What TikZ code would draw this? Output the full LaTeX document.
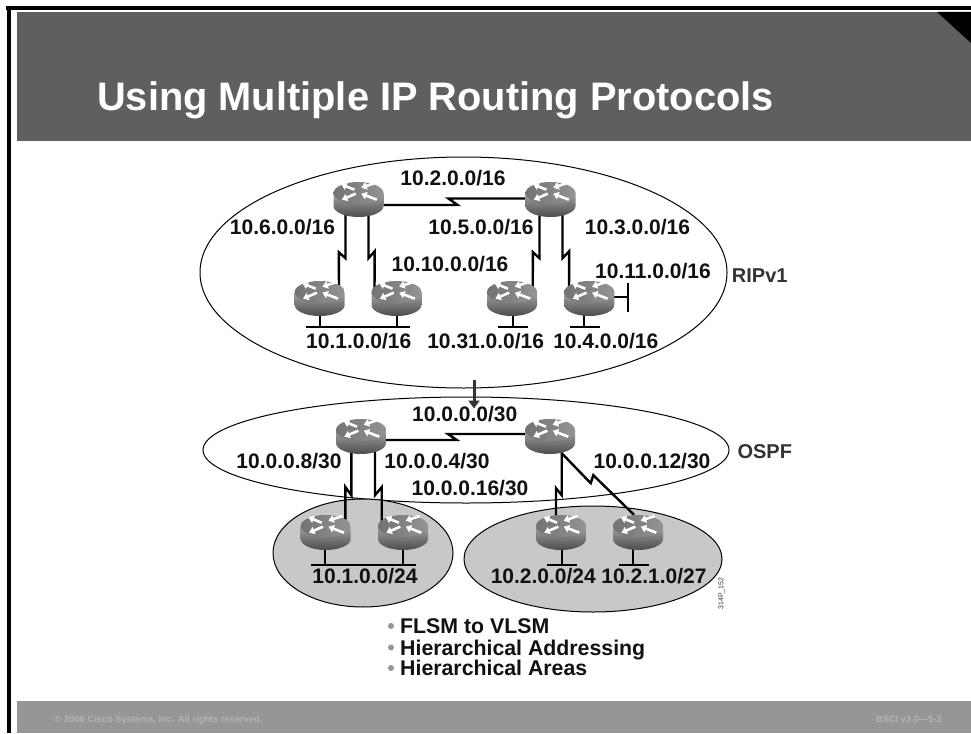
\documentclass[tikz,border=0pt]{standalone}
\usepackage{fontspec}
\setmainfont{Liberation Sans}
\usetikzlibrary{shapes.geometric,arrows.meta}
\pgfdeclarelayer{back}
\pgfdeclarelayer{links}
\pgfsetlayers{back,links,main}
\definecolor{hdr}{HTML}{5F5F5F}
\definecolor{ftr}{HTML}{969696}
\definecolor{ftxt}{HTML}{B4B4B4}
\definecolor{area}{HTML}{C8C8C8}
\definecolor{ink}{HTML}{111111}
\definecolor{protoink}{HTML}{333333}
\tikzset{
  x=1pt,y=-1pt,
  net/.style={font=\bfseries\fontsize{21}{24}\selectfont,text=ink,inner sep=0pt,anchor=base,yshift=1pt},
  proto/.style={font=\bfseries\fontsize{20}{24}\selectfont,text=protoink,inner sep=0pt,anchor=base west,yshift=-1pt},
  bullettext/.style={font=\bfseries\fontsize{21.3}{24}\selectfont,text=ink,inner sep=0pt,anchor=base west},
  bulletdot/.style={circle,fill=ftr,inner sep=0pt,minimum size=6pt},
  zone/.style={ellipse,draw=black,line width=1pt,inner sep=0pt},
  lan/.style={line width=2.2pt,draw=black},
  serial/.style={line width=2.4pt,draw=black,line join=miter},
  rbox/.style={rectangle,minimum width=50pt,minimum height=35pt,inner sep=0pt},
  rarrow/.style={draw=white,line width=2.6pt,-{Triangle[length=5.5pt,width=7.5pt,fill=white]}},
}
\newcommand{\routerat}[3]{%
  \begin{scope}[shift={(#2,#3)}]
    \shade[top color=black!36,bottom color=black!70,draw=none]
      (-25,-6.5) -- (-25,6.5) arc[start angle=180,end angle=0,x radius=25,y radius=11]
      -- (25,-6.5) -- cycle;
    \shade[left color=black!55,right color=black!42,draw=none]
      (0,-6.5) ellipse[x radius=25,y radius=11];
    \draw[rarrow] (-4,-9.8) -- (-17.3,-15.2);
    \draw[rarrow] (16.7,-16.5) -- (2.7,-11.8);
    \draw[rarrow] (-2.7,-5.8) -- (-16.7,0.2);
    \draw[rarrow] (18.3,0.2) -- (2.7,-5.8);
  \end{scope}
  \node[rbox] (#1) at (#2,#3) {};}
\begin{document}
\begin{tikzpicture}
\useasboundingbox (0,0) rectangle (971,733);
\begin{pgfonlayer}{back}
  \fill[white] (0,0) rectangle (971,733);
  \fill[black] (6,6) rectangle (971,10);
  \fill[black] (7,6) rectangle (11,733);
  \fill[hdr] (17,12) rectangle (971,141);
  \fill[black] (937,12) -- (971,12) -- (971,43) -- cycle;
  \fill[ftr] (17,701) rectangle (971,733);
  \node[zone,fill=white,minimum width=527pt,minimum height=231pt] (rip) at (463.5,272.5) {};
  \node[zone,fill=white,minimum width=526pt,minimum height=106pt] (ospf) at (466,450) {};
  \node[zone,fill=area,minimum width=180pt,minimum height=108pt] (areaa) at (363,553) {};
  \node[zone,fill=area,minimum width=258pt,minimum height=106pt] (areab) at (593,559) {};
\end{pgfonlayer}

\node[font=\bfseries\fontsize{39.8}{44}\selectfont,text=white,anchor=base west,inner sep=0pt] (title) at (97,111) {Using Multiple IP Routing Protocols};
\node[font=\bfseries\fontsize{9.3}{10}\selectfont,text=ftxt,anchor=base west,inner sep=0pt] (copy) at (54.5,722) {© 2006 Cisco Systems, Inc. All rights reserved.};
\node[font=\bfseries\fontsize{9.3}{10}\selectfont,text=ftxt,anchor=base east,inner sep=0pt] (ver) at (942,722) {BSCI v3.0—5-2};

% routers
\routerat{ra}{358.5}{199.5}
\routerat{rb}{550.5}{199.5}
\routerat{rc}{319.7}{298.5}
\routerat{rd}{396.5}{298.5}
\routerat{re}{512}{298.5}
\routerat{rf}{589.3}{298.5}
\routerat{rg}{361}{436.5}
\routerat{rh}{550}{436.5}
\routerat{ri}{325.7}{532.5}
\routerat{rj}{403}{532.5}
\routerat{rk}{561}{532.5}
\routerat{rl}{638}{532.5}

% free ends
\coordinate (b1w) at (305.7,327.3); \coordinate (b1e) at (410,327.3);
\coordinate (b2w) at (498.3,327.3); \coordinate (b2e) at (528.3,327.3);
\coordinate (b3w) at (570,327.3);   \coordinate (b3e) at (600,327.3);
\coordinate (b4n) at (627.7,282.7); \coordinate (b4s) at (627.7,312.3);
\coordinate (b5w) at (310.7,565);   \coordinate (b5e) at (415.7,565);
\coordinate (b6w) at (547.3,565);   \coordinate (b6e) at (577.3,565);
\coordinate (b7w) at (619.3,565);   \coordinate (b7e) at (649.3,565);

\begin{pgfonlayer}{links}
  % serial links
  \draw[serial] ([xshift=24pt,yshift=-5.5pt]ra.center) -- ++(75,0) -- ++(-9,-6.5) -- ([xshift=-24pt,yshift=1pt]rb.center);
  \draw[serial] ([xshift=-13pt,yshift=4pt]ra.south) -- ++(0,45) -- ++(-6.7,-6) -- ([xshift=19.3pt,yshift=-9pt]rc.north);
  \draw[serial] ([xshift=10pt,yshift=4pt]ra.south) -- ++(0,45) -- ++(6.2,-7) -- ([xshift=-22pt,yshift=-9pt]rd.north);
  \draw[serial] ([xshift=-11pt,yshift=4pt]rb.south) -- ++(0,45) -- ++(-6.6,-6) -- ([xshift=20.7pt,yshift=-9pt]re.north);
  \draw[serial] ([xshift=12pt,yshift=4pt]rb.south) -- ++(0,45) -- ++(6.7,-7) -- ([xshift=-20.3pt,yshift=-9pt]rf.north);
  \draw[serial] ([xshift=24pt,yshift=-3.5pt]rg.center) -- ++(71.7,0) -- ++(-8.7,-6) -- ([xshift=-24pt,yshift=2.5pt]rh.center);
  \draw[serial] ([xshift=-9.7pt,yshift=4pt]rg.south) -- ++(0,45) -- ++(-6,-8.3) -- ([xshift=19.6pt,yshift=-6pt]ri.north);
  \draw[serial] ([xshift=14pt,yshift=4pt]rg.south) -- ++(0,45) -- ++(6.7,-8) -- ([xshift=-21.3pt,yshift=-8pt]rj.north);
  \draw[serial] ([xshift=11.7pt,yshift=4pt]rh.south) -- ++(0,45) -- ++(-5.7,-7) -- ([xshift=-5pt,yshift=-5pt]rk.north);
  \draw[serial] ([xshift=11.7pt,yshift=1pt]rh.south) -- ++(29,30) -- ++(2.6,-8) -- ([xshift=-4pt]rl.north);
  % LAN stubs
  \draw[lan] (b1w) -- (b1e);
  \draw[lan] ([xshift=0.3pt,yshift=3pt]rc.south) -- ([xshift=0.3pt]rc.south |- b1w);
  \draw[lan] ([xshift=0.8pt,yshift=3pt]rd.south) -- ([xshift=0.8pt]rd.south |- b1w);
  \draw[lan] (b2w) -- (b2e);
  \draw[lan] ([xshift=1.3pt,yshift=3pt]re.south) -- ([xshift=1.3pt]re.south |- b2w);
  \draw[lan] (b3w) -- (b3e);
  \draw[lan] ([xshift=-5.3pt,yshift=3pt]rf.south) -- ([xshift=-5.3pt]rf.south |- b3w);
  \draw[lan] (b4n) -- (b4s);
  \draw[lan] ([xshift=-3pt]rf.east |- 0,296.7) -- (b4n |- 0,296.7);
  \draw[lan] (b5w) -- (b5e);
  \draw[lan] ([xshift=-0.7pt,yshift=3pt]ri.south) -- ([xshift=-0.7pt]ri.south |- b5w);
  \draw[lan] ([xshift=-0.3pt,yshift=3pt]rj.south) -- ([xshift=-0.3pt]rj.south |- b5w);
  \draw[lan] (b6w) -- (b6e);
  \draw[lan] ([xshift=1.3pt,yshift=3pt]rk.south) -- ([xshift=1.3pt]rk.south |- b6w);
  \draw[lan] (b7w) -- (b7e);
  \draw[lan] ([xshift=-4.7pt,yshift=3pt]rl.south) -- ([xshift=-4.7pt]rl.south |- b7w);
\end{pgfonlayer}

% redistribution arrow
\draw[line width=3pt,draw=protoink,-{Triangle[length=8pt,width=11pt]}] ([xshift=10.5pt,yshift=9pt]rip.south) -- ([xshift=8pt,yshift=-12pt]ospf.north);

% labels
\node[net] (n1) at (453,186) {10.2.0.0/16};
\node[net] (n2) at (282.5,235) {10.6.0.0/16};
\node[net] (n3) at (481,235) {10.5.0.0/16};
\node[net] (n4) at (637.5,235) {10.3.0.0/16};
\node[net] (n5) at (450,272) {10.10.0.0/16};
\node[net] (n6) at (653,279.3) {10.11.0.0/16};
\node[net] (n7) at (358.7,349) {10.1.0.0/16};
\node[net] (n8) at (485.7,349) {10.31.0.0/16};
\node[net] (n9) at (605.8,349) {10.4.0.0/16};
\node[proto] (p1) at (731.7,281.7) {RIPv1};
\node[net] (n10) at (464.7,422.7) {10.0.0.0/30};
\node[net] (n11) at (289,469) {10.0.0.8/30};
\node[net] (n12) at (437,469) {10.0.0.4/30};
\node[net] (n13) at (652,469) {10.0.0.12/30};
\node[net] (n14) at (470,496.7) {10.0.0.16/30};
\node[net] (n15) at (365,584) {10.1.0.0/24};
\node[net] (n16) at (543.3,584) {10.2.0.0/24};
\node[net] (n17) at (654,584) {10.2.1.0/27};
\node[proto] (p2) at (737.3,457.3) {OSPF};
\node[font=\fontsize{7}{8}\selectfont,text=protoink,rotate=90,inner sep=0pt] (code) at (721.5,593.5) {314P\_152};

\node[bullettext] (t1) at (400,633) {FLSM to VLSM};
\node[bullettext] (t2) at (400,655) {Hierarchical Addressing};
\node[bullettext] (t3) at (400,675.5) {Hierarchical Areas};
\node[bulletdot] (d1) at (391,626) {};
\node[bulletdot] (d2) at (391,647.5) {};
\node[bulletdot] (d3) at (391,668) {};
\end{tikzpicture}
\end{document}
